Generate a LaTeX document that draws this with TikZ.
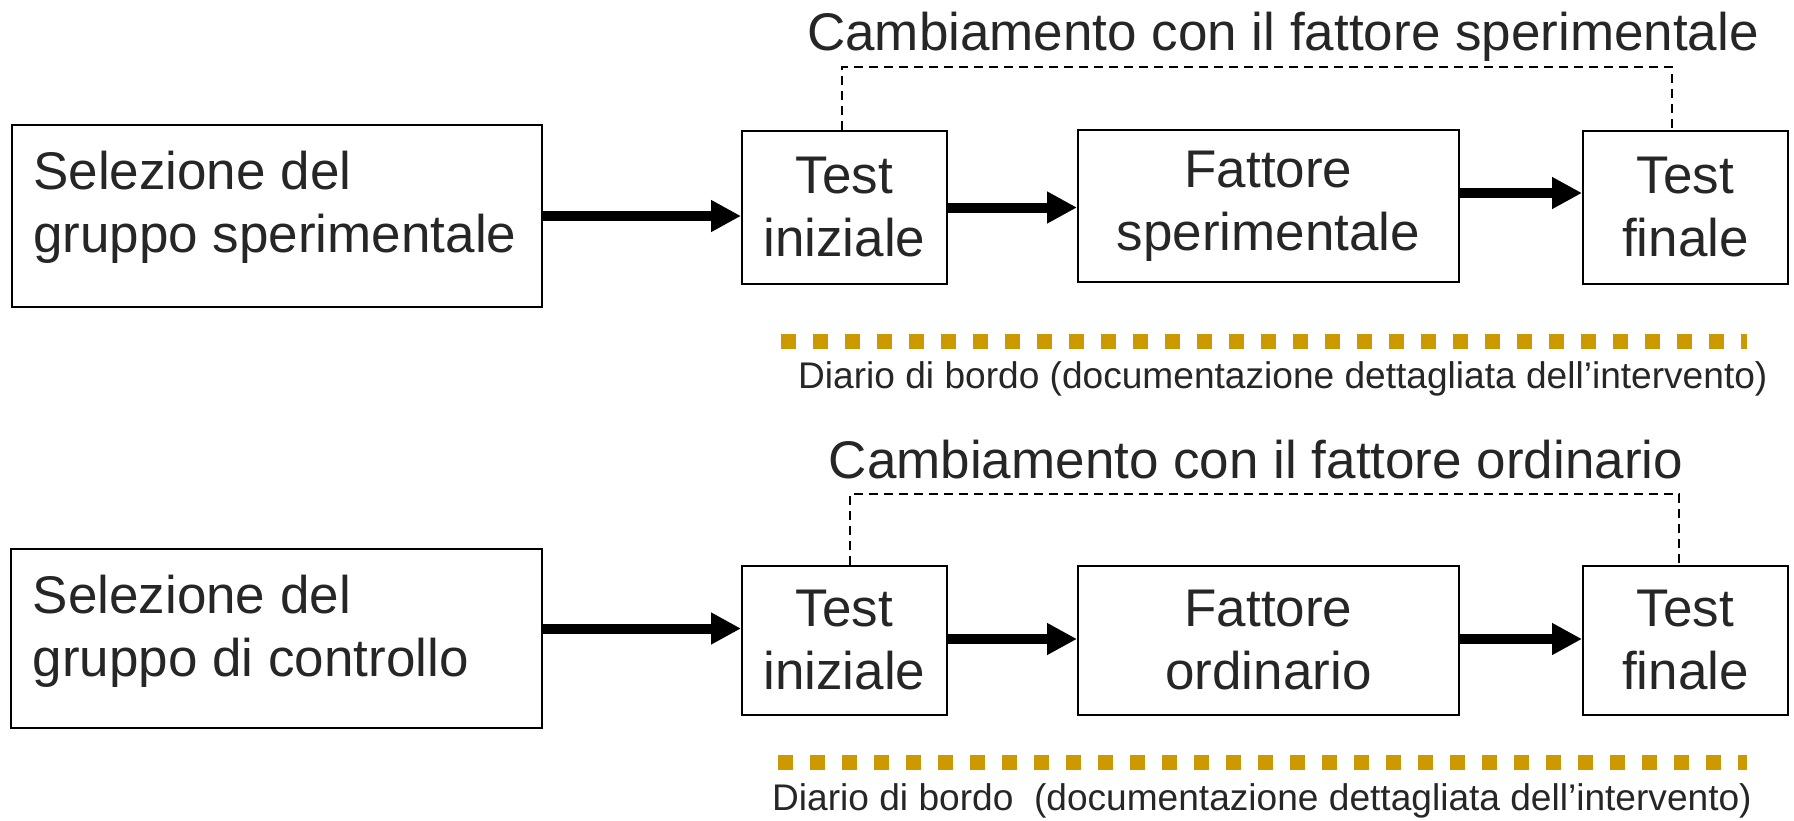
\documentclass[tikz,border=0pt]{standalone}
\usepackage{fontspec}
\setmainfont{Liberation Sans}
\usetikzlibrary{arrows.meta,calc}
\definecolor{txt}{RGB}{38,38,38}
\definecolor{gold}{RGB}{204,153,0}
\begin{document}
\begin{tikzpicture}[x=1pt,y=-1pt,
  box/.style={draw=black, line width=2pt, inner sep=0pt, text=txt, align=center,
    font=\fontsize{53}{63}\selectfont},
  boxtext/.style={inner sep=0pt, text=txt, align=left, font=\fontsize{53}{63}\selectfont},
  arr/.style={line width=10pt, -{Triangle[length=30pt,width=30pt]}},
  bracket/.style={line width=1.5pt, dash pattern=on 9pt off 6pt},
  diary/.style={draw=gold, line width=15pt, dash pattern=on 15pt off 17pt},
  title/.style={inner sep=0pt, text=txt, font=\fontsize{53}{63}\selectfont},
  diarytext/.style={inner sep=0pt, text=txt, font=\fontsize{37.1}{45}\selectfont}]
\useasboundingbox (0,0) rectangle (1794,820);

% Row 1
\node[box, minimum width=530.5pt, minimum height=182pt] (b1) at (276.75,216) {};
\node[boxtext, anchor=north west] (l1) at ([xshift=22.5pt,yshift=-27pt]b1.north west) {Selezione del\\gruppo sperimentale};
\node[box, minimum width=205pt, minimum height=153pt] (b2) at (844.5,207.5) {Test\\iniziale};
\node[box, minimum width=381pt, minimum height=152pt] (b3) at (1268.5,206) {Fattore\\sperimentale};
\node[box, minimum width=205pt, minimum height=153pt] (b4) at (1685.5,207.5) {Test\\finale};

\draw[arr] (b1.east) -- (b1.east -| b2.west);
\draw[arr] (b2.east) -- (b2.east -| b3.west);
\draw[arr] ([yshift=13pt]b3.east) -- ([yshift=13pt]b3.east -| b4.west);

\draw[bracket] ([xshift=-2.5pt]b2.north) -- ++(0,-63) -| ([xshift=-13.5pt]b4.north);
\node[title, anchor=base] (t1) at (1283,50) {Cambiamento con il fattore sperimentale};

\coordinate (d1s) at (781,341);
\coordinate (d1e) at (1747,341);
\draw[diary] (d1s) -- (d1e);
\node[diarytext, anchor=base west] (g1) at (798,388) {Diario di bordo (documentazione dettagliata dell’intervento)};

% Row 2
\node[box, minimum width=531pt, minimum height=179pt] (c1) at (276.5,638.5) {};
\node[boxtext, anchor=north west] (l2) at ([xshift=22.5pt,yshift=-27pt]c1.north west) {Selezione del\\gruppo di controllo};
\node[box, minimum width=205pt, minimum height=149pt] (c2) at (844.5,640.5) {Test\\iniziale};
\node[box, minimum width=381pt, minimum height=149pt] (c3) at (1268.5,640.5) {Fattore\\ordinario};
\node[box, minimum width=205pt, minimum height=149pt] (c4) at (1685.5,640.5) {Test\\finale};

\draw[arr] ([yshift=10pt]c1.east) -- ([yshift=10pt]c1.east -| c2.west);
\draw[arr] ([yshift=1.5pt]c2.east) -- ([yshift=1.5pt]c2.east -| c3.west);
\draw[arr] ([yshift=1.5pt]c3.east) -- ([yshift=1.5pt]c3.east -| c4.west);

\draw[bracket] ([xshift=5.5pt]c2.north) -- ++(0,-71) -| ([xshift=-6.5pt]c4.north);
\node[title, anchor=base] (t2) at (1256,478) {Cambiamento con il fattore ordinario};

\coordinate (d2s) at (778,762);
\coordinate (d2e) at (1747,762);
\draw[diary] (d2s) -- (d2e);
\node[diarytext, anchor=base west] (g2) at (772,810) {Diario di bordo\ \ (documentazione dettagliata dell’intervento)};
\end{tikzpicture}
\end{document}
